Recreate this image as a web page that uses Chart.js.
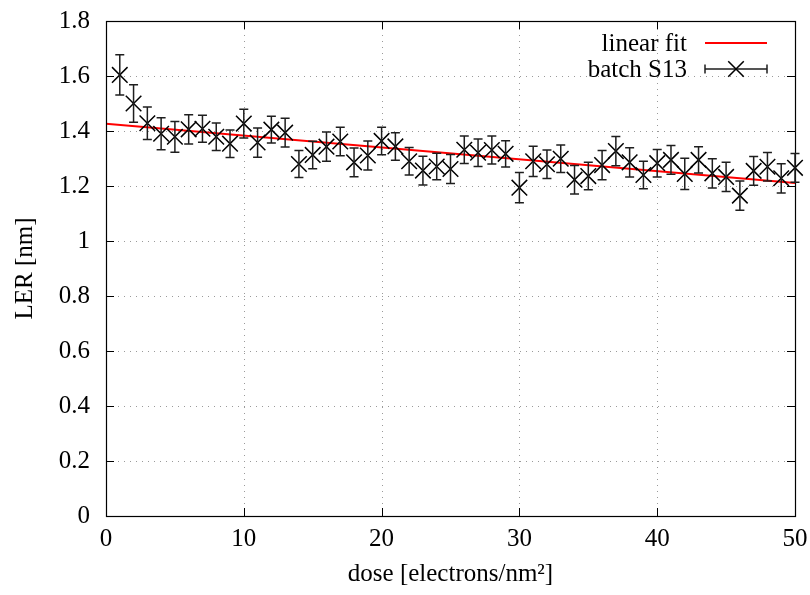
<!DOCTYPE html>
<html>
<head>
<meta charset="utf-8">
<title>LER vs dose</title>
<script src="https://cdn.jsdelivr.net/npm/chart.js@4/dist/chart.umd.min.js"></script>
<style>
  html, body { margin: 0; padding: 0; background: #ffffff; }
  #wrap { width: 810px; height: 595px; position: relative; }
</style>
</head>
<body>
<div id="wrap"><canvas id="chart"></canvas></div>
<script>
// Measured line edge roughness per dose step
const dose = [
   1,  2,  3,  4,  5,  6,  7,  8,  9, 10,
  11, 12, 13, 14, 15, 16, 17, 18, 19, 20,
  21, 22, 23, 24, 25, 26, 27, 28, 29, 30,
  31, 32, 33, 34, 35, 36, 37, 38, 39, 40,
  41, 42, 43, 44, 45, 46, 47, 48, 49, 50
];
const ler = [
  1.604, 1.500, 1.428, 1.390, 1.379, 1.406, 1.408, 1.379, 1.354, 1.427,
  1.358, 1.405, 1.394, 1.280, 1.313, 1.343, 1.362, 1.286, 1.311, 1.364,
  1.344, 1.290, 1.256, 1.271, 1.262, 1.332, 1.321, 1.331, 1.317, 1.194,
  1.290, 1.279, 1.299, 1.223, 1.236, 1.276, 1.327, 1.286, 1.240, 1.283,
  1.295, 1.244, 1.295, 1.246, 1.233, 1.165, 1.255, 1.270, 1.228, 1.266
];
const lerErr = [
  0.073, 0.068, 0.059, 0.058, 0.056, 0.053, 0.049, 0.050, 0.050, 0.052,
  0.053, 0.049, 0.052, 0.049, 0.050, 0.053, 0.052, 0.052, 0.053, 0.050,
  0.050, 0.050, 0.052, 0.048, 0.053, 0.050, 0.050, 0.051, 0.048, 0.055,
  0.055, 0.052, 0.050, 0.052, 0.050, 0.053, 0.053, 0.053, 0.050, 0.050,
  0.052, 0.057, 0.048, 0.053, 0.053, 0.053, 0.052, 0.052, 0.053, 0.052
];

// Linear fit, end points over the dose range
const fitDose = [0, 50];
const fitLer = [1.426, 1.211];

// Axis ticks
const xTicks = [0, 10, 20, 30, 40, 50];
const xTickLabels = ['0', '10', '20', '30', '40', '50'];
const yTicks = [0, 0.2, 0.4, 0.6, 0.8, 1.0, 1.2, 1.4, 1.6, 1.8];
const yTickLabels = ['0', '0.2', '0.4', '0.6', '0.8', '1', '1.2', '1.4', '1.6', '1.8'];

const seriesNames = ['linear fit', 'batch S13'];

const FONT = '"Liberation Serif", "Times New Roman", serif';
const FONT_SIZE = 25;
const RED = 'rgb(255,0,0)';
const INK = '#000000';
const BAR_INK = '#1e1e1e';
const CAP = 4.5;
const MARK_R = 11;

// Dotted grid behind the data, frame and inward ticks on all four sides
const framePlugin = {
  id: 'frame',
  beforeDatasetsDraw(chart) {
    const { ctx, chartArea: a, scales: { x, y } } = chart;
    ctx.save();
    ctx.strokeStyle = '#9a9a9a';
    ctx.lineWidth = 1;
    ctx.setLineDash([1, 5]);
    xTicks.forEach(v => {
      if (v <= x.min || v >= x.max) return;
      const px = Math.round(x.getPixelForValue(v)) + 0.5;
      ctx.beginPath(); ctx.moveTo(px, a.bottom); ctx.lineTo(px, a.top); ctx.stroke();
    });
    yTicks.forEach(v => {
      if (v <= y.min || v >= y.max) return;
      const py = Math.round(y.getPixelForValue(v)) + 0.5;
      ctx.beginPath(); ctx.moveTo(a.left, py); ctx.lineTo(a.right, py); ctx.stroke();
    });
    ctx.restore();
  },
  afterDatasetsDraw(chart) {
    const { ctx, chartArea: a, scales: { x, y } } = chart;
    const tl = 8;
    ctx.save();
    ctx.strokeStyle = INK;
    ctx.lineWidth = 1;
    ctx.setLineDash([]);
    xTicks.forEach(v => {
      const px = Math.round(x.getPixelForValue(v)) + 0.5;
      ctx.beginPath();
      ctx.moveTo(px, a.bottom); ctx.lineTo(px, a.bottom - tl);
      ctx.moveTo(px, a.top); ctx.lineTo(px, a.top + tl);
      ctx.stroke();
    });
    yTicks.forEach(v => {
      const py = Math.round(y.getPixelForValue(v)) + 0.5;
      ctx.beginPath();
      ctx.moveTo(a.left, py); ctx.lineTo(a.left + tl, py);
      ctx.moveTo(a.right, py); ctx.lineTo(a.right - tl, py);
      ctx.stroke();
    });
    ctx.lineWidth = 1.2;
    ctx.strokeRect(Math.round(a.left) + 0.5, Math.round(a.top) + 0.5,
                   Math.round(a.right - a.left), Math.round(a.bottom - a.top));
    ctx.restore();
  }
};

// Vertical error bars with caps for the measured series
const errorBarPlugin = {
  id: 'errorBars',
  afterDatasetsDraw(chart) {
    const { ctx, scales: { x, y } } = chart;
    ctx.save();
    ctx.strokeStyle = BAR_INK;
    ctx.lineWidth = 1.5;
    dose.forEach((d, i) => {
      const px = x.getPixelForValue(d);
      const top = y.getPixelForValue(ler[i] + lerErr[i]);
      const bot = y.getPixelForValue(ler[i] - lerErr[i]);
      ctx.beginPath();
      ctx.moveTo(px, top); ctx.lineTo(px, bot);
      ctx.moveTo(px - CAP, top); ctx.lineTo(px + CAP, top);
      ctx.moveTo(px - CAP, bot); ctx.lineTo(px + CAP, bot);
      ctx.stroke();
    });
    ctx.restore();
  }
};

// Key in the upper right: label text right-aligned, sample to its right
const keyPlugin = {
  id: 'key',
  afterDraw(chart) {
    const { ctx } = chart;
    const textRight = 687, s0 = 705, s1 = 767;
    const rows = [43, 69];
    ctx.save();
    ctx.font = FONT_SIZE + 'px ' + FONT;
    ctx.fillStyle = INK;
    ctx.textAlign = 'right';
    ctx.textBaseline = 'middle';
    seriesNames.forEach((name, i) => ctx.fillText(name, textRight, rows[i] + 1));

    ctx.strokeStyle = RED;
    ctx.lineWidth = 2;
    ctx.beginPath(); ctx.moveTo(s0, rows[0]); ctx.lineTo(s1, rows[0]); ctx.stroke();

    ctx.strokeStyle = BAR_INK;
    ctx.lineWidth = 1.5;
    ctx.beginPath();
    ctx.moveTo(s0, rows[1]); ctx.lineTo(s1, rows[1]);
    ctx.moveTo(s0, rows[1] - CAP); ctx.lineTo(s0, rows[1] + CAP);
    ctx.moveTo(s1, rows[1] - CAP); ctx.lineTo(s1, rows[1] + CAP);
    ctx.stroke();
    const cx = (s0 + s1) / 2, h = MARK_R * Math.SQRT1_2;
    ctx.strokeStyle = INK;
    ctx.beginPath();
    ctx.moveTo(cx - h, rows[1] - h); ctx.lineTo(cx + h, rows[1] + h);
    ctx.moveTo(cx - h, rows[1] + h); ctx.lineTo(cx + h, rows[1] - h);
    ctx.stroke();
    ctx.restore();
  }
};

new Chart(document.getElementById('chart'), {
  type: 'scatter',
  data: {
    datasets: [
      {
        label: seriesNames[0],
        data: fitDose.map((d, i) => ({ x: d, y: fitLer[i] })),
        showLine: true,
        borderColor: RED,
        borderWidth: 2,
        pointRadius: 0,
        order: 2
      },
      {
        label: seriesNames[1],
        data: dose.map((d, i) => ({ x: d, y: ler[i] })),
        showLine: false,
        pointStyle: 'crossRot',
        pointRadius: MARK_R,
        pointHoverRadius: MARK_R,
        borderColor: INK,
        backgroundColor: INK,
        borderWidth: 1.5,
        clip: false,
        order: 1
      }
    ]
  },
  options: {
    responsive: true,
    maintainAspectRatio: false,
    animation: false,
    devicePixelRatio: 1,
    layout: { padding: { left: 0, right: 15, top: 21, bottom: 0 } },
    plugins: { legend: { display: false }, tooltip: { enabled: false } },
    scales: {
      x: {
        type: 'linear',
        min: 0, max: 50,
        afterBuildTicks: s => { s.ticks = xTicks.map(v => ({ value: v })); },
        afterFit: s => { s.height = 79; s.paddingLeft = 0; s.paddingRight = 0; },
        grid: { display: false, drawTicks: false },
        border: { display: false },
        ticks: {
          padding: 8,
          color: INK,
          font: { family: FONT, size: FONT_SIZE },
          maxRotation: 0,
          callback: v => xTickLabels[xTicks.indexOf(v)] ?? ''
        },
        title: {
          display: true,
          text: 'dose [electrons/nm²]',
          color: INK,
          font: { family: FONT, size: FONT_SIZE },
          padding: { top: 0, bottom: 6 }
        }
      },
      y: {
        type: 'linear',
        min: 0, max: 1.8,
        afterBuildTicks: s => { s.ticks = yTicks.map(v => ({ value: v })); },
        afterFit: s => { s.width = 106; s.paddingTop = 0; s.paddingBottom = 0; },
        grid: { display: false, drawTicks: false },
        border: { display: false },
        ticks: {
          padding: 16,
          color: INK,
          font: { family: FONT, size: FONT_SIZE },
          callback: v => {
            const i = yTicks.findIndex(t => Math.abs(t - v) < 1e-9);
            return i >= 0 ? yTickLabels[i] : '';
          }
        },
        title: {
          display: true,
          text: 'LER [nm]',
          color: INK,
          font: { family: FONT, size: FONT_SIZE },
          padding: { top: 10, bottom: 0 }
        }
      }
    }
  },
  plugins: [framePlugin, errorBarPlugin, keyPlugin]
});
</script>
</body>
</html>
